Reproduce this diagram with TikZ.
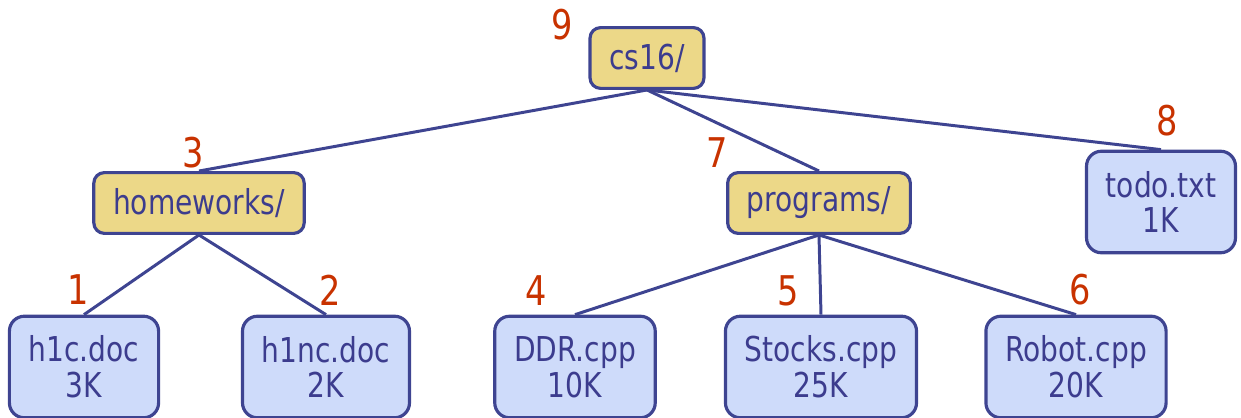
\documentclass[tikz,border=0pt]{standalone}
\usepackage{fontspec}
\setmainfont{DejaVu Sans}[FakeStretch=0.82]
\usepackage{xcolor}
\usepackage{tikz}
\usetikzlibrary{positioning}
\definecolor{cEdge}{RGB}{62,68,145}
\definecolor{cText}{RGB}{60,60,142}
\definecolor{cDir}{RGB}{236,216,136}
\definecolor{cFile}{RGB}{206,219,250}
\definecolor{cNum}{RGB}{200,50,0}
\tikzset{
	dirbox/.style ={rectangle, rounded corners=6pt, draw=cEdge, line width=1.8pt, fill=cDir, text=cText, minimum height=34.6pt, inner xsep=11pt, font=\fontsize{19.5}{21}\selectfont},
	filebox/.style={rectangle, rounded corners=8.5pt, draw=cEdge, line width=1.8pt, fill=cFile, text=cText, minimum height=57.8pt, inner xsep=11pt, align=center, font=\fontsize{19.5}{20.4}\selectfont},
	order/.style  ={text=cNum, inner sep=0pt, font=\fontsize{23.3}{24}\selectfont},
	link/.style   ={draw=cEdge, line width=1.7pt},
}

\begin{document}
\begin{tikzpicture}[x=0.02cm, y=-0.02cm]
	\useasboundingbox (0,0) rectangle (1241,418);
	% directories
	\node[dirbox] (cs) at (647,58) {cs16/};
	\node[dirbox] (hw) at (199,203) {homeworks/};
	\node[dirbox] (pg) at (819,203) {programs/};
	% files
	\node[filebox] (todo) at (1161,202) {todo.txt\\1K};
	\node[filebox] (hc) at (84,367) {h1c.doc\\3K};
	\node[filebox] (hnc) at (326,367) {h1nc.doc\\2K};
	\node[filebox] (ddr) at (575,367) {DDR.cpp\\10K};
	\node[filebox] (stk) at (821,367) {Stocks.cpp\\25K};
	\node[filebox] (rob) at (1076,367) {Robot.cpp\\20K};
	% tree edges
	\draw[link] (cs.south) -- (hw.north);
	\draw[link] (cs.south) -- (pg.north);
	\draw[link] (cs.south) -- (todo.north);
	\draw[link] (hw.south) -- (hc.north);
	\draw[link] (hw.south) -- (hnc.north);
	\draw[link] (pg.south) -- (ddr.north);
	\draw[link] (pg.south) -- (stk.north);
	\draw[link] (pg.south) -- (rob.north);
	% postorder numbers
	\node[order] (n9) at (562,25) {9};
	\node[order] (n3) at (193,153) {3};
	\node[order] (n7) at (717,153) {7};
	\node[order] (n8) at (1167,121) {8};
	\node[order] (n1) at (78,290) {1};
	\node[order] (n2) at (330,290) {2};
	\node[order] (n4) at (536,291) {4};
	\node[order] (n5) at (788,291) {5};
	\node[order] (n6) at (1080,290) {6};
\end{tikzpicture}
\end{document}
